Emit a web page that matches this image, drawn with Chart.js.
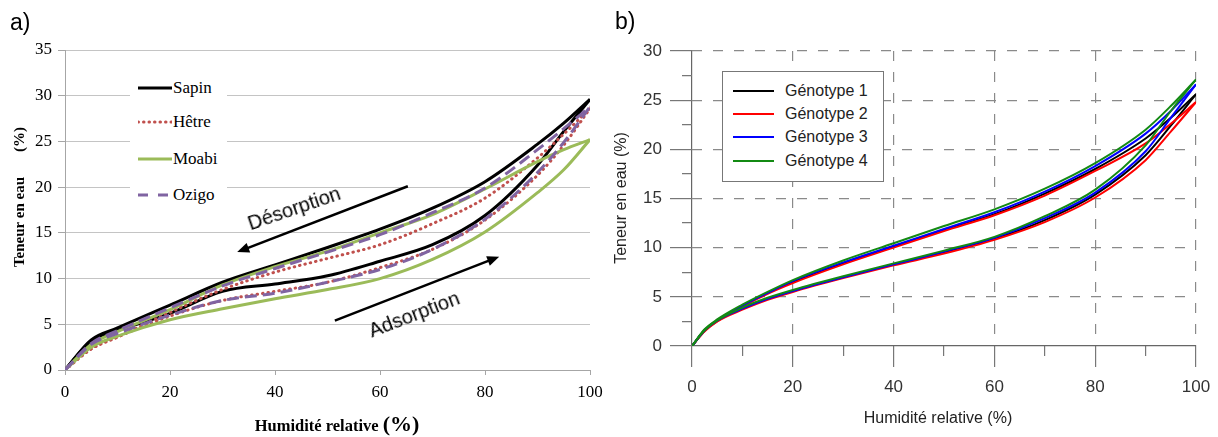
<!DOCTYPE html>
<html lang="fr">
<head>
<meta charset="utf-8">
<title>Isothermes de sorption</title>
<script src="https://cdn.jsdelivr.net/npm/chart.js@4.4.1/dist/chart.umd.min.js"></script>
<style>
    html, body { margin: 0; padding: 0; background: #fff; }
    body { position: relative; width: 1218px; height: 437px; overflow: hidden; }
    canvas { position: absolute; top: 0; }
    #woodChart { left: 0; }
    #genoChart { left: 604px; }
    .txt { position: absolute; white-space: nowrap; line-height: 1; }
    .mid { transform: translate(-50%, -50%); }
    .serif { font-family: "Liberation Serif", "Times New Roman", serif; color: #000; }
    .sans { font-family: "Liberation Sans", Arial, sans-serif; }
    #woodLegend { position: absolute; left: 130px; top: 75px; width: 97px; height: 130px; background: #fff; }
    #genoLegend { position: absolute; left: 722px; top: 71px; width: 160px; height: 109px; border: 1px solid #777; background: #fff; }
    .row { position: absolute; height: 20px; display: flex; align-items: center; white-space: nowrap; }
    .row svg { display: block; }
</style>
</head>
<body>
<canvas id="woodChart" width="604" height="437"></canvas>
<canvas id="genoChart" width="614" height="437"></canvas>

<div class="txt sans" style="left:10px; top:11px; font-size:23px;">a)</div>
<div class="txt sans" style="left:615px; top:10px; font-size:23px;">b)</div>

<!-- panel a titles -->
<div class="txt serif mid" style="left:19px; top:197px; font-size:15px; font-weight:bold; transform: translate(-50%, -50%) rotate(-90deg);">Teneur en eau<span style="display:inline-block; width:25px;"></span>(%)</div>
<div class="txt serif mid" style="left:337px; top:424px; font-weight:bold;"><span style="font-size:16.5px;">Humidité relative </span><span style="font-size:22px;">(%)</span></div>
<div class="txt sans mid" style="left:294px; top:208px; font-size:20px; transform: translate(-50%, -50%) rotate(-19deg);">Désorption</div>
<div class="txt sans mid" style="left:414px; top:314px; font-size:20px; transform: translate(-50%, -50%) rotate(-21deg);">Adsorption</div>

<!-- panel b titles -->
<div class="txt sans mid" style="left:621px; top:198px; font-size:16px; color:#222; transform: translate(-50%, -50%) rotate(-90deg);">Teneur en eau (%)</div>
<div class="txt sans mid" style="left:938px; top:418px; font-size:16px; color:#222;">Humidité relative (%)</div>

<div id="woodLegend"></div>
<div id="genoLegend"></div>

<script>
// a) bois : humidité relative (%) et teneur en eau (%)
const woodRh = [0, 5, 10, 20, 30, 40, 50, 60, 70, 80, 90, 95, 100];
const sapinAds = [0, 3.2, 4.3, 6.2, 8.6, 9.4, 10.3, 11.9, 13.7, 16.9, 22.4, 26.1, 29.6];
const sapinDes = [0, 3.3, 4.6, 7.1, 9.6, 11.5, 13.4, 15.4, 17.7, 20.6, 24.7, 27.0, 29.6];
const hetreAds = [0, 2.3, 3.6, 5.9, 7.6, 8.6, 9.6, 11.2, 13.2, 16.4, 21.3, 24.6, 28.6];
const hetreDes = [0, 2.3, 3.6, 6.3, 8.8, 10.7, 12.2, 13.7, 16.0, 18.8, 23.2, 25.8, 28.6];
const moabiAds = [0, 2.5, 3.7, 5.5, 6.7, 7.8, 8.8, 10.0, 12.1, 15.1, 19.4, 21.9, 25.2];
const moabiDes = [0, 2.8, 4.2, 6.6, 9.3, 11.3, 13.0, 15.0, 17.0, 19.8, 22.8, 24.1, 25.2];
const ozigoAds = [0, 2.8, 4.0, 6.0, 7.6, 8.4, 9.6, 11.0, 13.2, 16.5, 21.6, 24.9, 28.8];
const ozigoDes = [0, 2.9, 4.3, 6.8, 9.2, 11.1, 12.9, 14.8, 17.2, 19.9, 24.1, 26.4, 28.8];
const woodXTicks = [0, 20, 40, 60, 80, 100];
const woodYTicks = [0, 5, 10, 15, 20, 25, 30, 35];

// b) génotypes
const genoRh = [0, 2.5, 5, 10, 15, 20, 30, 40, 50, 60, 70, 80, 90, 95, 100];
const geno1Ads = [0, 1.6, 2.6, 3.8, 4.8, 5.6, 7.0, 8.3, 9.5, 10.9, 12.8, 15.4, 19.4, 22.4, 25.6];
const geno1Des = [0, 1.6, 2.6, 4.1, 5.4, 6.5, 8.4, 10.1, 11.8, 13.4, 15.5, 18.0, 21.1, 23.2, 25.6];
const geno2Ads = [0, 1.5, 2.5, 3.7, 4.7, 5.5, 6.9, 8.2, 9.4, 10.8, 12.6, 15.1, 18.9, 21.8, 24.8];
const geno2Des = [0, 1.5, 2.5, 4.0, 5.3, 6.4, 8.3, 10.0, 11.7, 13.3, 15.3, 17.8, 20.6, 22.6, 24.8];
const geno3Ads = [0, 1.6, 2.6, 3.8, 4.8, 5.6, 7.0, 8.3, 9.6, 11.0, 13.0, 15.6, 19.8, 23.2, 26.6];
const geno3Des = [0, 1.6, 2.6, 4.1, 5.4, 6.6, 8.5, 10.2, 11.9, 13.6, 15.7, 18.3, 21.6, 23.9, 26.6];
const geno4Ads = [0, 1.6, 2.6, 3.9, 4.9, 5.7, 7.1, 8.4, 9.7, 11.1, 13.2, 15.9, 20.4, 23.9, 27.1];
const geno4Des = [0, 1.7, 2.7, 4.2, 5.5, 6.7, 8.7, 10.45, 12.2, 13.9, 16.0, 18.6, 22.0, 24.4, 27.1];
const genoXTicks = [0, 10, 20, 30, 40, 50, 60, 70, 80, 90, 100];
const genoXLabels = [0, 20, 40, 60, 80, 100];
const genoYTicks = [0, 2.5, 5, 7.5, 10, 12.5, 15, 17.5, 20, 22.5, 25, 27.5, 30];
const genoYLabels = [0, 5, 10, 15, 20, 25, 30];

const pts = (xs, ys) => xs.map((x, i) => ({ x: x, y: ys[i] }));
const setTicks = (values) => (scale) => { scale.ticks = values.map((v) => ({ value: v })); };

const woodSeries = [
    { label: 'Sapin', ads: sapinAds, des: sapinDes, color: '#000000', dash: [], cap: 'butt' },
    { label: 'Hêtre', ads: hetreAds, des: hetreDes, color: '#c0504d', dash: [0.5, 5], cap: 'round' },
    { label: 'Moabi', ads: moabiAds, des: moabiDes, color: '#9bbb59', dash: [], cap: 'butt' },
    { label: 'Ozigo', ads: ozigoAds, des: ozigoDes, color: '#8064a2', dash: [12, 6], cap: 'butt' }
];

const genoSeries = [
    { label: 'Génotype 1', ads: geno1Ads, des: geno1Des, color: '#000000' },
    { label: 'Génotype 2', ads: geno2Ads, des: geno2Des, color: '#ff0000' },
    { label: 'Génotype 3', ads: geno3Ads, des: geno3Des, color: '#0000ff' },
    { label: 'Génotype 4', ads: geno4Ads, des: geno4Des, color: '#138a13' }
];

// arrows for the "Désorption" / "Adsorption" notes, in data units
const woodArrows = [
    { from: [65.3, 20.1], to: [32.8, 12.9] },
    { from: [51.4, 5.4], to: [82.7, 12.4] }
];

const arrowPlugin = {
    id: 'arrows',
    afterDatasetsDraw(chart) {
        const { ctx } = chart;
        const xs = chart.scales.x;
        const ys = chart.scales.y;
        woodArrows.forEach((a) => {
            const x1 = xs.getPixelForValue(a.from[0]);
            const y1 = ys.getPixelForValue(a.from[1]);
            const x2 = xs.getPixelForValue(a.to[0]);
            const y2 = ys.getPixelForValue(a.to[1]);
            const ang = Math.atan2(y2 - y1, x2 - x1);
            const head = 12;
            ctx.save();
            ctx.strokeStyle = '#000';
            ctx.fillStyle = '#000';
            ctx.lineWidth = 2.5;
            ctx.beginPath();
            ctx.moveTo(x1, y1);
            ctx.lineTo(x2 - Math.cos(ang) * head * 0.8, y2 - Math.sin(ang) * head * 0.8);
            ctx.stroke();
            ctx.beginPath();
            ctx.moveTo(x2, y2);
            ctx.lineTo(x2 - head * Math.cos(ang) + 5 * Math.sin(ang), y2 - head * Math.sin(ang) - 5 * Math.cos(ang));
            ctx.lineTo(x2 - head * Math.cos(ang) - 5 * Math.sin(ang), y2 - head * Math.sin(ang) + 5 * Math.cos(ang));
            ctx.closePath();
            ctx.fill();
            ctx.restore();
        });
    }
};

// x labels hang past the plot edge; keep the plot where the layout padding puts it
const fixX = (h) => (s) => { s.height = h; s.paddingLeft = 0; s.paddingRight = 0; };

function buildWoodChart() {
    const datasets = [];
    woodSeries.forEach((s, i) => {
        [s.ads, s.des].forEach((ys) => {
            datasets.push({
                label: s.label,
                data: pts(woodRh, ys),
                borderColor: s.color,
                borderWidth: 3,
                borderDash: s.dash,
                borderCapStyle: s.cap,
                pointRadius: 0,
                fill: false,
                cubicInterpolationMode: 'monotone',
                order: woodSeries.length - i
            });
        });
    });

    const serifTicks = { family: 'Liberation Serif', size: 17 };

    new Chart(document.getElementById('woodChart'), {
        type: 'line',
        data: { datasets: datasets },
        plugins: [arrowPlugin],
        options: {
            responsive: false,
            animation: false,
            layout: { padding: { left: 0, right: 14, top: 50, bottom: 0 } },
            plugins: { legend: { display: false }, tooltip: { enabled: false } },
            scales: {
                x: {
                    type: 'linear',
                    min: 0,
                    max: 100,
                    afterBuildTicks: setTicks(woodXTicks),
                    afterFit: fixX(67),
                    ticks: { font: serifTicks, color: '#000', padding: 7, maxRotation: 0, autoSkip: false },
                    grid: { drawOnChartArea: false, tickLength: 5, tickColor: '#a6a6a6' },
                    border: { color: '#a6a6a6' }
                },
                y: {
                    type: 'linear',
                    min: 0,
                    max: 35,
                    afterBuildTicks: setTicks(woodYTicks),
                    afterFit: (s) => { s.width = 65; },
                    ticks: { font: serifTicks, color: '#000', padding: 6, autoSkip: false },
                    grid: { color: '#c4c4c4', tickLength: 7, tickColor: '#a6a6a6' },
                    border: { color: '#a6a6a6' }
                }
            }
        }
    });
}

function buildGenoChart() {
    const datasets = [];
    genoSeries.forEach((s, i) => {
        [s.ads, s.des].forEach((ys) => {
            datasets.push({
                label: s.label,
                data: pts(genoRh, ys),
                borderColor: s.color,
                borderWidth: 2,
                pointRadius: 0,
                fill: false,
                cubicInterpolationMode: 'monotone',
                order: genoSeries.length - i
            });
        });
    });

    const sansTicks = { family: 'Liberation Sans', size: 17 };
    const val = (ctx) => (ctx.tick ? ctx.tick.value : null);
    const gridColor = (labels) => (ctx) => {
        const v = val(ctx);
        if (v === 0) return '#666';
        return labels.includes(v) ? '#8a8a8a' : 'rgba(0,0,0,0)';
    };
    const gridDash = (ctx) => (val(ctx) === 0 ? [] : [10, 11]);

    new Chart(document.getElementById('genoChart'), {
        type: 'line',
        data: { datasets: datasets },
        options: {
            responsive: false,
            animation: false,
            layout: { padding: { left: 0, right: 22, top: 51, bottom: 0 } },
            plugins: { legend: { display: false }, tooltip: { enabled: false } },
            scales: {
                x: {
                    type: 'linear',
                    min: 0,
                    max: 100,
                    afterBuildTicks: setTicks(genoXTicks),
                    afterFit: fixX(91),
                    ticks: {
                        font: sansTicks,
                        color: '#333',
                        padding: 10,
                        maxRotation: 0,
                        autoSkip: false,
                        callback: (v) => (genoXLabels.includes(v) ? v : '')
                    },
                    grid: {
                        tickLength: 21,
                        lineWidth: 1.2,
                        color: gridColor(genoXLabels),
                        tickColor: '#777',
                        tickBorderDash: (ctx) => (genoXLabels.includes(val(ctx)) ? [] : [10, 100])
                    },
                    border: { display: false, dash: gridDash }
                },
                y: {
                    type: 'linear',
                    min: 0,
                    max: 30,
                    afterBuildTicks: setTicks(genoYTicks),
                    afterFit: (s) => { s.width = 88; },
                    ticks: {
                        font: sansTicks,
                        color: '#333',
                        padding: 8,
                        autoSkip: false,
                        callback: (v) => (genoYLabels.includes(v) ? v : '')
                    },
                    grid: {
                        tickLength: 22,
                        lineWidth: 1.2,
                        color: gridColor(genoYLabels),
                        tickColor: '#777',
                        tickBorderDash: (ctx) => (genoYLabels.includes(val(ctx)) ? [] : [0, 12, 10, 100])
                    },
                    border: { display: false, dash: gridDash }
                }
            }
        }
    });
}

function sample(color, dash, cap, width, len) {
    return '<svg width="' + len + '" height="8"><line x1="0" y1="4" x2="' + len + '" y2="4" stroke="' + color +
        '" stroke-width="' + width + '" stroke-linecap="' + cap + '"' +
        (dash.length ? ' stroke-dasharray="' + dash.join(',') + '"' : '') + '/></svg>';
}

function buildLegends() {
    const woodLegend = document.getElementById('woodLegend');
    const woodRows = [13, 47, 84, 120];
    woodSeries.forEach((s, i) => {
        const row = document.createElement('div');
        row.className = 'row serif';
        row.style.left = '8px';
        row.style.top = (woodRows[i] - 10) + 'px';
        row.style.fontSize = '17px';
        const dash = s.label === 'Hêtre' ? [0.5, 5] : (s.label === 'Ozigo' ? [10, 10] : []);
        const cap = s.label === 'Hêtre' ? 'round' : 'butt';
        row.innerHTML = sample(s.color, dash, cap, 3, 34) + '<span style="margin-left:1px;">' + s.label + '</span>';
        woodLegend.appendChild(row);
    });

    const genoLegend = document.getElementById('genoLegend');
    const genoRows = [19, 42, 65, 89];
    genoSeries.forEach((s, i) => {
        const row = document.createElement('div');
        row.className = 'row sans';
        row.style.left = '10px';
        row.style.top = (genoRows[i] - 10) + 'px';
        row.style.fontSize = '16px';
        row.style.color = '#222';
        row.innerHTML = sample(s.color, [], 'butt', 2, 41) + '<span style="margin-left:11px;">' + s.label + '</span>';
        genoLegend.appendChild(row);
    });
}

document.addEventListener('DOMContentLoaded', () => {
    buildWoodChart();
    buildGenoChart();
    buildLegends();
});
</script>
</body>
</html>
